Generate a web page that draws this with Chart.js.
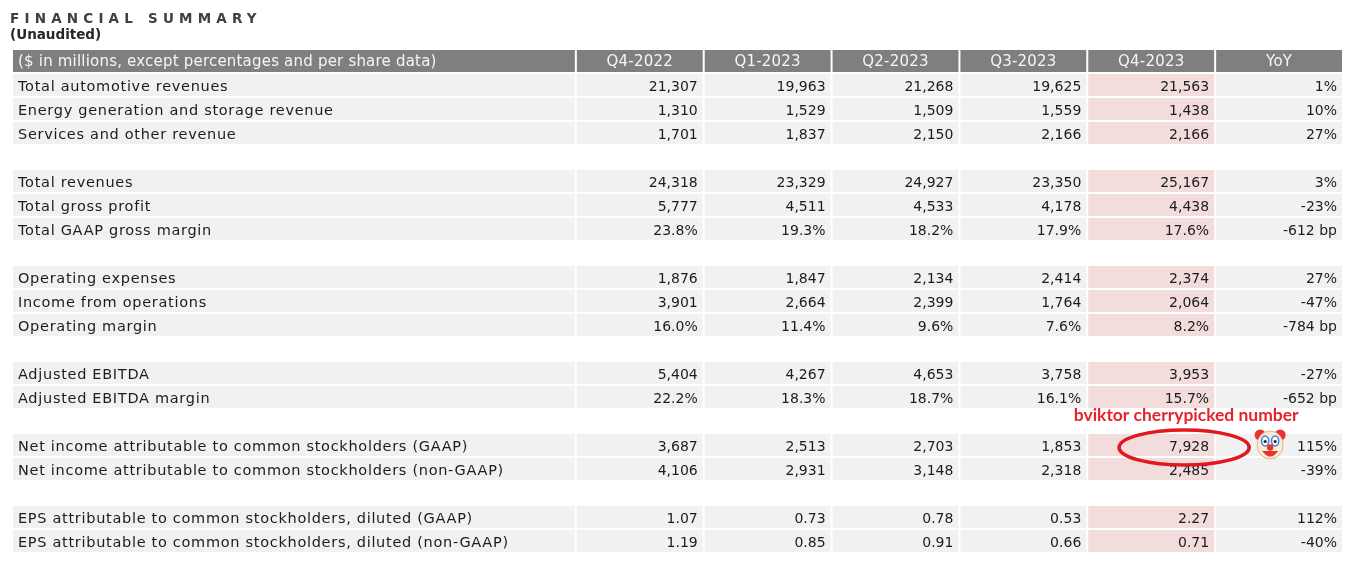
<!DOCTYPE html>
<html>
<head>
<meta charset="utf-8">
<title>Financial Summary</title>
<script src="https://cdn.jsdelivr.net/npm/chart.js@4.4.1/dist/chart.umd.min.js"></script>
<style>
  html, body { margin: 0; padding: 0; background: #fff; }
  #wrap { position: relative; width: 1361px; height: 562px; overflow: hidden; }
  #board { position: absolute; left: 0; top: 0; }
  .title {
    position: absolute; left: 10px; top: 10px;
    font: bold 13.5px/16px 'DejaVu Sans', sans-serif;
    letter-spacing: 5.2px; color: #404040; white-space: nowrap;
  }
  .sub {
    position: absolute; left: 10px; top: 26px;
    font: bold 13.5px/16px 'DejaVu Sans', sans-serif;
    color: #262626; white-space: nowrap;
  }
</style>
</head>
<body>
<div id="wrap">
  <canvas id="board" width="1361" height="562"></canvas>
  <div class="title">FINANCIAL SUMMARY</div>
  <div class="sub">(Unaudited)</div>
</div>
<script>
/* ── Data ───────────────────────────────────────────────────── */
const unitsNote = '($ in millions, except percentages and per share data)';
const quarters  = ['Q4-2022', 'Q1-2023', 'Q2-2023', 'Q3-2023', 'Q4-2023'];
const yoyHeader = 'YoY';

// null = spacer row
const rowLabels = [
  'Total automotive revenues',
  'Energy generation and storage revenue',
  'Services and other revenue',
  null,
  'Total revenues',
  'Total gross profit',
  'Total GAAP gross margin',
  null,
  'Operating expenses',
  'Income from operations',
  'Operating margin',
  null,
  'Adjusted EBITDA',
  'Adjusted EBITDA margin',
  null,
  'Net income attributable to common stockholders (GAAP)',
  'Net income attributable to common stockholders (non-GAAP)',
  null,
  'EPS attributable to common stockholders, diluted (GAAP)',
  'EPS attributable to common stockholders, diluted (non-GAAP)'
];

// usd = $ millions, pct = percent (YoY in bp), eps = per share
const rowFormats = [
  'usd', 'usd', 'usd', null,
  'usd', 'usd', 'pct', null,
  'usd', 'usd', 'pct', null,
  'usd', 'pct', null,
  'usd', 'usd', null,
  'eps', 'eps'
];

const q4_2022 = [21307, 1310, 1701, null, 24318, 5777, 23.8, null, 1876, 3901, 16.0, null, 5404, 22.2, null, 3687, 4106, null, 1.07, 1.19];
const q1_2023 = [19963, 1529, 1837, null, 23329, 4511, 19.3, null, 1847, 2664, 11.4, null, 4267, 18.3, null, 2513, 2931, null, 0.73, 0.85];
const q2_2023 = [21268, 1509, 2150, null, 24927, 4533, 18.2, null, 2134, 2399,  9.6, null, 4653, 18.7, null, 2703, 3148, null, 0.78, 0.91];
const q3_2023 = [19625, 1559, 2166, null, 23350, 4178, 17.9, null, 2414, 1764,  7.6, null, 3758, 16.1, null, 1853, 2318, null, 0.53, 0.66];
const q4_2023 = [21563, 1438, 2166, null, 25167, 4438, 17.6, null, 2374, 2064,  8.2, null, 3953, 15.7, null, 7928, 2485, null, 2.27, 0.71];
const yoy     = [1, 10, 27, null, 3, -23, -612, null, 27, -47, -784, null, -27, -652, null, 115, -39, null, 112, -40];

const quarterValues = [q4_2022, q1_2023, q2_2023, q3_2023, q4_2023];

// the flagged cell
const annotationText = 'bviktor cherrypicked number';
const annotationRow  = 15;          // index in rowLabels
const annotationCol  = 4;           // index in quarters

/* ── Layout ─────────────────────────────────────────────────── */
const LABEL_UNITS = 4.41;           // label column width, in data-column units
const colEdges = [0];
colEdges.push(LABEL_UNITS);
for (let i = 1; i <= 6; i++) colEdges.push(LABEL_UNITS + i);

const HEADER_BG = '#7f7f7f';
const CELL_BG   = '#f1f1f1';
const PINK_BG   = '#f2dcdc';
const INK       = '#1c1c1c';
const FONT      = "'DejaVu Sans', sans-serif";

// category 0 is the header, then one per table row
const categories = ['header'].concat(rowLabels.map((l, i) => l || 'spacer' + i));

function fmt(v, kind) {
  if (v === null || v === undefined) return '';
  if (kind === 'pct') return v.toFixed(1) + '%';
  if (kind === 'eps') return v.toFixed(2);
  return v.toLocaleString('en-US');
}
function fmtYoy(v, kind) {
  if (v === null || v === undefined) return '';
  return kind === 'pct' ? v + ' bp' : v + '%';
}

/* ── Cell backgrounds: one floating-bar dataset per column ─── */
const datasets = [];
for (let c = 0; c < 7; c++) {
  const span = [colEdges[c], colEdges[c + 1]];
  datasets.push({
    data: categories.map((_, r) => (r === 0 || rowLabels[r - 1] !== null) ? span : null),
    backgroundColor: categories.map((_, r) => r === 0 ? HEADER_BG : (c === annotationCol + 1 ? PINK_BG : CELL_BG)),
    borderColor: '#ffffff',
    borderWidth: 1,
    borderSkipped: false,
    inflateAmount: 0,
    grouped: false,
    barPercentage: 1,
    categoryPercentage: 1
  });
}

/* ── Text + annotation plugin ───────────────────────────────── */
function drawClown(ctx, cx, cy) {
  ctx.save();
  // hair tufts
  ctx.fillStyle = '#e8322b';
  [[-10, -9], [10, -9]].forEach(([dx, dy]) => {
    ctx.beginPath(); ctx.arc(cx + dx, cy + dy, 5.5, 0, Math.PI * 2); ctx.fill();
  });
  // face
  ctx.fillStyle = '#fcebd9';
  ctx.strokeStyle = '#e3b48a';
  ctx.lineWidth = 1;
  ctx.beginPath(); ctx.ellipse(cx, cy + 1, 13, 14, 0, 0, Math.PI * 2); ctx.fill(); ctx.stroke();
  // eyes
  [-5, 5].forEach(dx => {
    ctx.fillStyle = '#ffffff';
    ctx.strokeStyle = '#3f7fd8';
    ctx.lineWidth = 1.5;
    ctx.beginPath(); ctx.ellipse(cx + dx, cy - 3, 3.6, 5, 0, 0, Math.PI * 2); ctx.fill(); ctx.stroke();
    ctx.fillStyle = '#2a2a2a';
    ctx.beginPath(); ctx.arc(cx + dx, cy - 2.5, 1.6, 0, Math.PI * 2); ctx.fill();
  });
  // nose
  ctx.fillStyle = '#e8322b';
  ctx.beginPath(); ctx.arc(cx, cy + 3.5, 3.2, 0, Math.PI * 2); ctx.fill();
  // mouth
  ctx.beginPath();
  ctx.moveTo(cx - 8, cy + 7);
  ctx.quadraticCurveTo(cx, cy + 18, cx + 8, cy + 7);
  ctx.closePath();
  ctx.fill();
  ctx.restore();
}

const tableText = {
  id: 'tableText',
  afterDatasetsDraw(chart) {
    const { ctx, scales: { x, y } } = chart;
    const px = v => x.getPixelForValue(v);
    const pad = 6;
    ctx.save();
    ctx.textBaseline = 'middle';

    // header row
    const hy = y.getPixelForValue(0) + 1.5;
    ctx.fillStyle = '#f6f6f6';
    ctx.font = '15px ' + FONT;
    ctx.letterSpacing = '0.2px';
    ctx.textAlign = 'left';
    ctx.fillText(unitsNote, px(colEdges[0]) + pad, hy);
    ctx.textAlign = 'center';
    quarters.concat([yoyHeader]).forEach((q, i) => {
      ctx.fillText(q, (px(colEdges[i + 1]) + px(colEdges[i + 2])) / 2, hy);
    });

    // body rows
    ctx.fillStyle = INK;
    rowLabels.forEach((label, k) => {
      if (label === null) return;
      const ry = y.getPixelForValue(k + 1) + 2;
      ctx.textAlign = 'left';
      ctx.font = '14.5px ' + FONT;
      ctx.letterSpacing = '0.7px';
      ctx.fillText(label, px(colEdges[0]) + pad, ry);
      ctx.font = '14px ' + FONT;
      ctx.letterSpacing = '0px';
      ctx.textAlign = 'right';
      quarterValues.forEach((vals, c) => {
        ctx.fillText(fmt(vals[k], rowFormats[k]), px(colEdges[c + 2]) - pad, ry);
      });
      ctx.fillText(fmtYoy(yoy[k], rowFormats[k]), px(colEdges[7]) - pad, ry);
    });

    // annotation: label, ellipse, clown
    const colR = px(colEdges[annotationCol + 2]);
    const ay = y.getPixelForValue(annotationRow + 1);
    ctx.fillStyle = '#e5232b';
    ctx.font = 'bold 16px Lato, sans-serif';
    ctx.textAlign = 'center';
    const w = ctx.measureText(annotationText).width;
    ctx.font = 'bold ' + (16 * 225 / w).toFixed(2) + 'px Lato, sans-serif';
    ctx.fillText(annotationText, colR - 29, ay - 30);

    ctx.strokeStyle = '#e2171f';
    ctx.lineWidth = 3.6;
    ctx.beginPath();
    ctx.ellipse(colR - 31, ay + 2.5, 65, 17.5, 0, 0, Math.PI * 2);
    ctx.stroke();

    drawClown(ctx, colR + 55, ay - 1);
    ctx.restore();
  }
};

/* ── Chart ──────────────────────────────────────────────────── */
new Chart(document.getElementById('board').getContext('2d'), {
  type: 'bar',
  data: { labels: categories, datasets },
  options: {
    indexAxis: 'y',
    responsive: false,
    animation: false,
    events: [],
    layout: { padding: { left: 12, right: 18, top: 49, bottom: 9 } },
    plugins: { legend: { display: false }, tooltip: { enabled: false } },
    scales: {
      x: { type: 'linear', min: 0, max: colEdges[colEdges.length - 1], display: false },
      y: { type: 'category', display: false, offset: true }
    }
  },
  plugins: [tableText]
});
</script>
</body>
</html>
